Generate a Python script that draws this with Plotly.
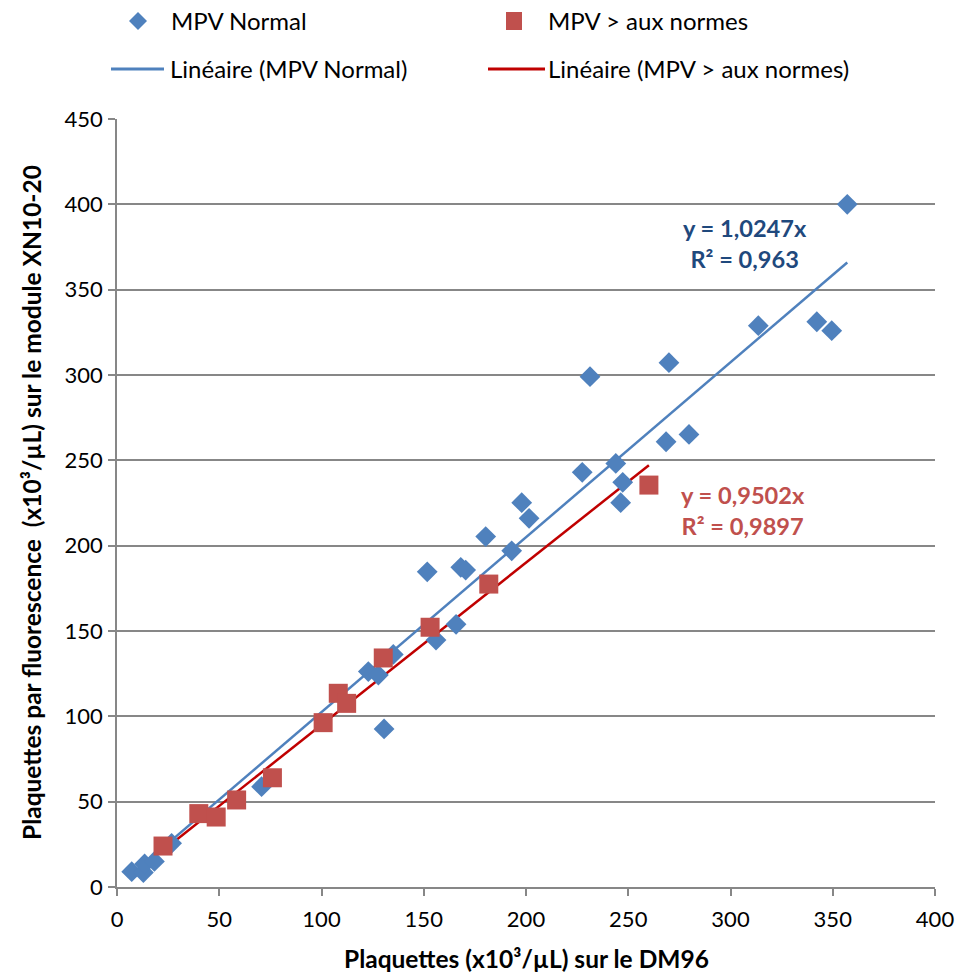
import plotly.graph_objects as go

# Platelet counts: DM96 (x) vs fluorescence on XN10-20 (y), x10^3/µL
normal_x = [7.2, 12.9, 13.5, 18.3, 26.7, 70.7, 122.9, 127.8, 130.6, 135.1,
            151.7, 156.0, 165.8, 168.1, 170.5, 180.3, 193.0, 197.9, 201.5,
            227.5, 231.3, 243.9, 246.3, 247.3, 268.5, 269.9, 279.7, 313.6,
            342.2, 349.5, 357.1]
normal_y = [9.0, 8.5, 13.5, 15.0, 25.6, 58.8, 126.2, 124.2, 92.6, 136.3,
            184.7, 144.7, 153.9, 187.3, 185.7, 205.3, 197.0, 225.2, 216.0,
            243.0, 299.0, 248.2, 225.2, 237.1, 260.9, 307.2, 265.2, 328.9,
            331.2, 326.0, 400.0]

high_x = [22.5, 40.0, 48.5, 58.5, 76.0, 100.8, 108.2, 112.3, 130.2, 153.1,
          181.8, 260.1]
high_y = [24.0, 43.0, 41.0, 51.0, 64.0, 96.3, 113.5, 107.6, 134.2, 152.2,
          177.5, 235.5]

# Linear fits forced through the origin
slope_normal, r2_normal = 1.0247, 0.963
slope_high, r2_high = 0.9502, 0.9897

x_ticks = [0, 50, 100, 150, 200, 250, 300, 350, 400]
y_ticks = [0, 50, 100, 150, 200, 250, 300, 350, 400, 450]

series_names = ["MPV Normal", "MPV > aux normes"]
fit_names = ["Linéaire (MPV Normal)", "Linéaire (MPV > aux normes)"]

BLUE = "#4F81BD"
RED = "#C0504D"
RED_LINE = "#C00000"
GRID = "#878787"
FONT = "Lato, 'Open Sans', sans-serif"

W, H = 956, 975
ML, MR, MT, MB = 117, 21, 119, 88
PW, PH = W - ML - MR, H - MT - MB


def px_x(px):
    """Page pixel column -> paper x."""
    return (px - ML) / PW


def px_y(py):
    """Page pixel row -> paper y."""
    return (H - MB - py) / PH


def fit_line(xs, slope):
    x0, x1 = min(xs), max(xs)
    return [x0, x1], [slope * x0, slope * x1]


def fmt(v):
    return str(v).replace(".", ",")


fig = go.Figure()

fx, fy = fit_line(normal_x, slope_normal)
fig.add_trace(go.Scatter(x=fx, y=fy, mode="lines", name=fit_names[0],
                         line=dict(color=BLUE, width=2.5)))
fx, fy = fit_line(high_x, slope_high)
fig.add_trace(go.Scatter(x=fx, y=fy, mode="lines", name=fit_names[1],
                         line=dict(color=RED_LINE, width=2.5)))

fig.add_trace(go.Scatter(x=normal_x, y=normal_y, mode="markers", name=series_names[0],
                         marker=dict(symbol="diamond", size=16, color=BLUE,
                                     line=dict(width=0))))
fig.add_trace(go.Scatter(x=high_x, y=high_y, mode="markers", name=series_names[1],
                         marker=dict(symbol="square", size=19, color=RED,
                                     line=dict(width=0))))

# Trendline equations
eq_font = dict(family=FONT, size=23.6, weight="bold")
fig.add_annotation(x=307.3, y=376.8, xref="x", yref="y", showarrow=False,
                   text=f"y = {fmt(slope_normal)}x<br>R² = {fmt(r2_normal)}",
                   font=dict(color="#1F497D", **eq_font), align="center")
fig.add_annotation(x=306, y=220.9, xref="x", yref="y", showarrow=False,
                   text=f"y = {fmt(slope_high)}x<br>R² = {fmt(r2_high)}",
                   font=dict(color=RED, **eq_font), align="center")

# Legend above the plot, two rows
leg_font = dict(family=FONT, size=24, color="#000")
legend_text = [
    (series_names[0], 169, 21),
    (series_names[1], 546, 21),
    (fit_names[0], 168, 69),
    (fit_names[1], 546, 69),
]
for txt, lx, ly in legend_text:
    fig.add_annotation(x=px_x(lx), y=px_y(ly), xref="paper", yref="paper",
                       xanchor="left", yanchor="middle", showarrow=False,
                       text=txt, font=leg_font)

shapes = [
    dict(type="path", xref="paper", yref="paper", xsizemode="pixel", ysizemode="pixel",
         xanchor=px_x(138), yanchor=px_y(21), path="M0,9 L9,0 L0,-9 L-9,0 Z",
         fillcolor=BLUE, line=dict(width=0)),
    dict(type="rect", xref="paper", yref="paper", xsizemode="pixel", ysizemode="pixel",
         xanchor=px_x(514), yanchor=px_y(21), x0=-8, x1=8, y0=-9, y1=9,
         fillcolor=RED, line=dict(width=0)),
    dict(type="line", xref="paper", yref="paper", x0=px_x(111), x1=px_x(164),
         y0=px_y(69), y1=px_y(69), line=dict(color=BLUE, width=3)),
    dict(type="line", xref="paper", yref="paper", x0=px_x(488), x1=px_x(545),
         y0=px_y(69), y1=px_y(69), line=dict(color=RED_LINE, width=3)),
]

# Axis titles
title_font = dict(family=FONT, size=24.5, weight="bold", color="#000")
fig.add_annotation(x=0.5, y=px_y(958), xref="paper", yref="paper", showarrow=False,
                   xanchor="center", yanchor="middle",
                   text="Plaquettes (x10³/µL) sur le DM96", font=title_font)
fig.add_annotation(x=px_x(31), y=0.5, xref="paper", yref="paper", showarrow=False,
                   xanchor="center", yanchor="middle", textangle=-90,
                   text="Plaquettes par fluorescence  (x10³/µL) sur le module XN10-20",
                   font=title_font)

fig.update_layout(
    width=W, height=H,
    margin=dict(l=ML, r=MR, t=MT, b=MB, autoexpand=False),
    paper_bgcolor="white", plot_bgcolor="white",
    font=dict(family=FONT, size=22, color="#000"),
    showlegend=False,
    shapes=shapes,
    xaxis=dict(range=[0, 400], tickvals=x_ticks, showgrid=False, zeroline=False,
               showline=True, linecolor=GRID, linewidth=1.5,
               ticks="outside", ticklen=7, tickcolor=GRID, tickwidth=1.5,
               ticklabelstandoff=5, tickfont=dict(family=FONT, size=22)),
    yaxis=dict(range=[0, 450], tickvals=y_ticks, showgrid=True, gridcolor=GRID,
               gridwidth=1.5, zeroline=False,
               showline=True, linecolor=GRID, linewidth=1.5,
               ticks="outside", ticklen=7, tickcolor=GRID, tickwidth=1.5,
               ticklabelstandoff=1, tickfont=dict(family=FONT, size=22)),
)

fig.write_html("out.html")
